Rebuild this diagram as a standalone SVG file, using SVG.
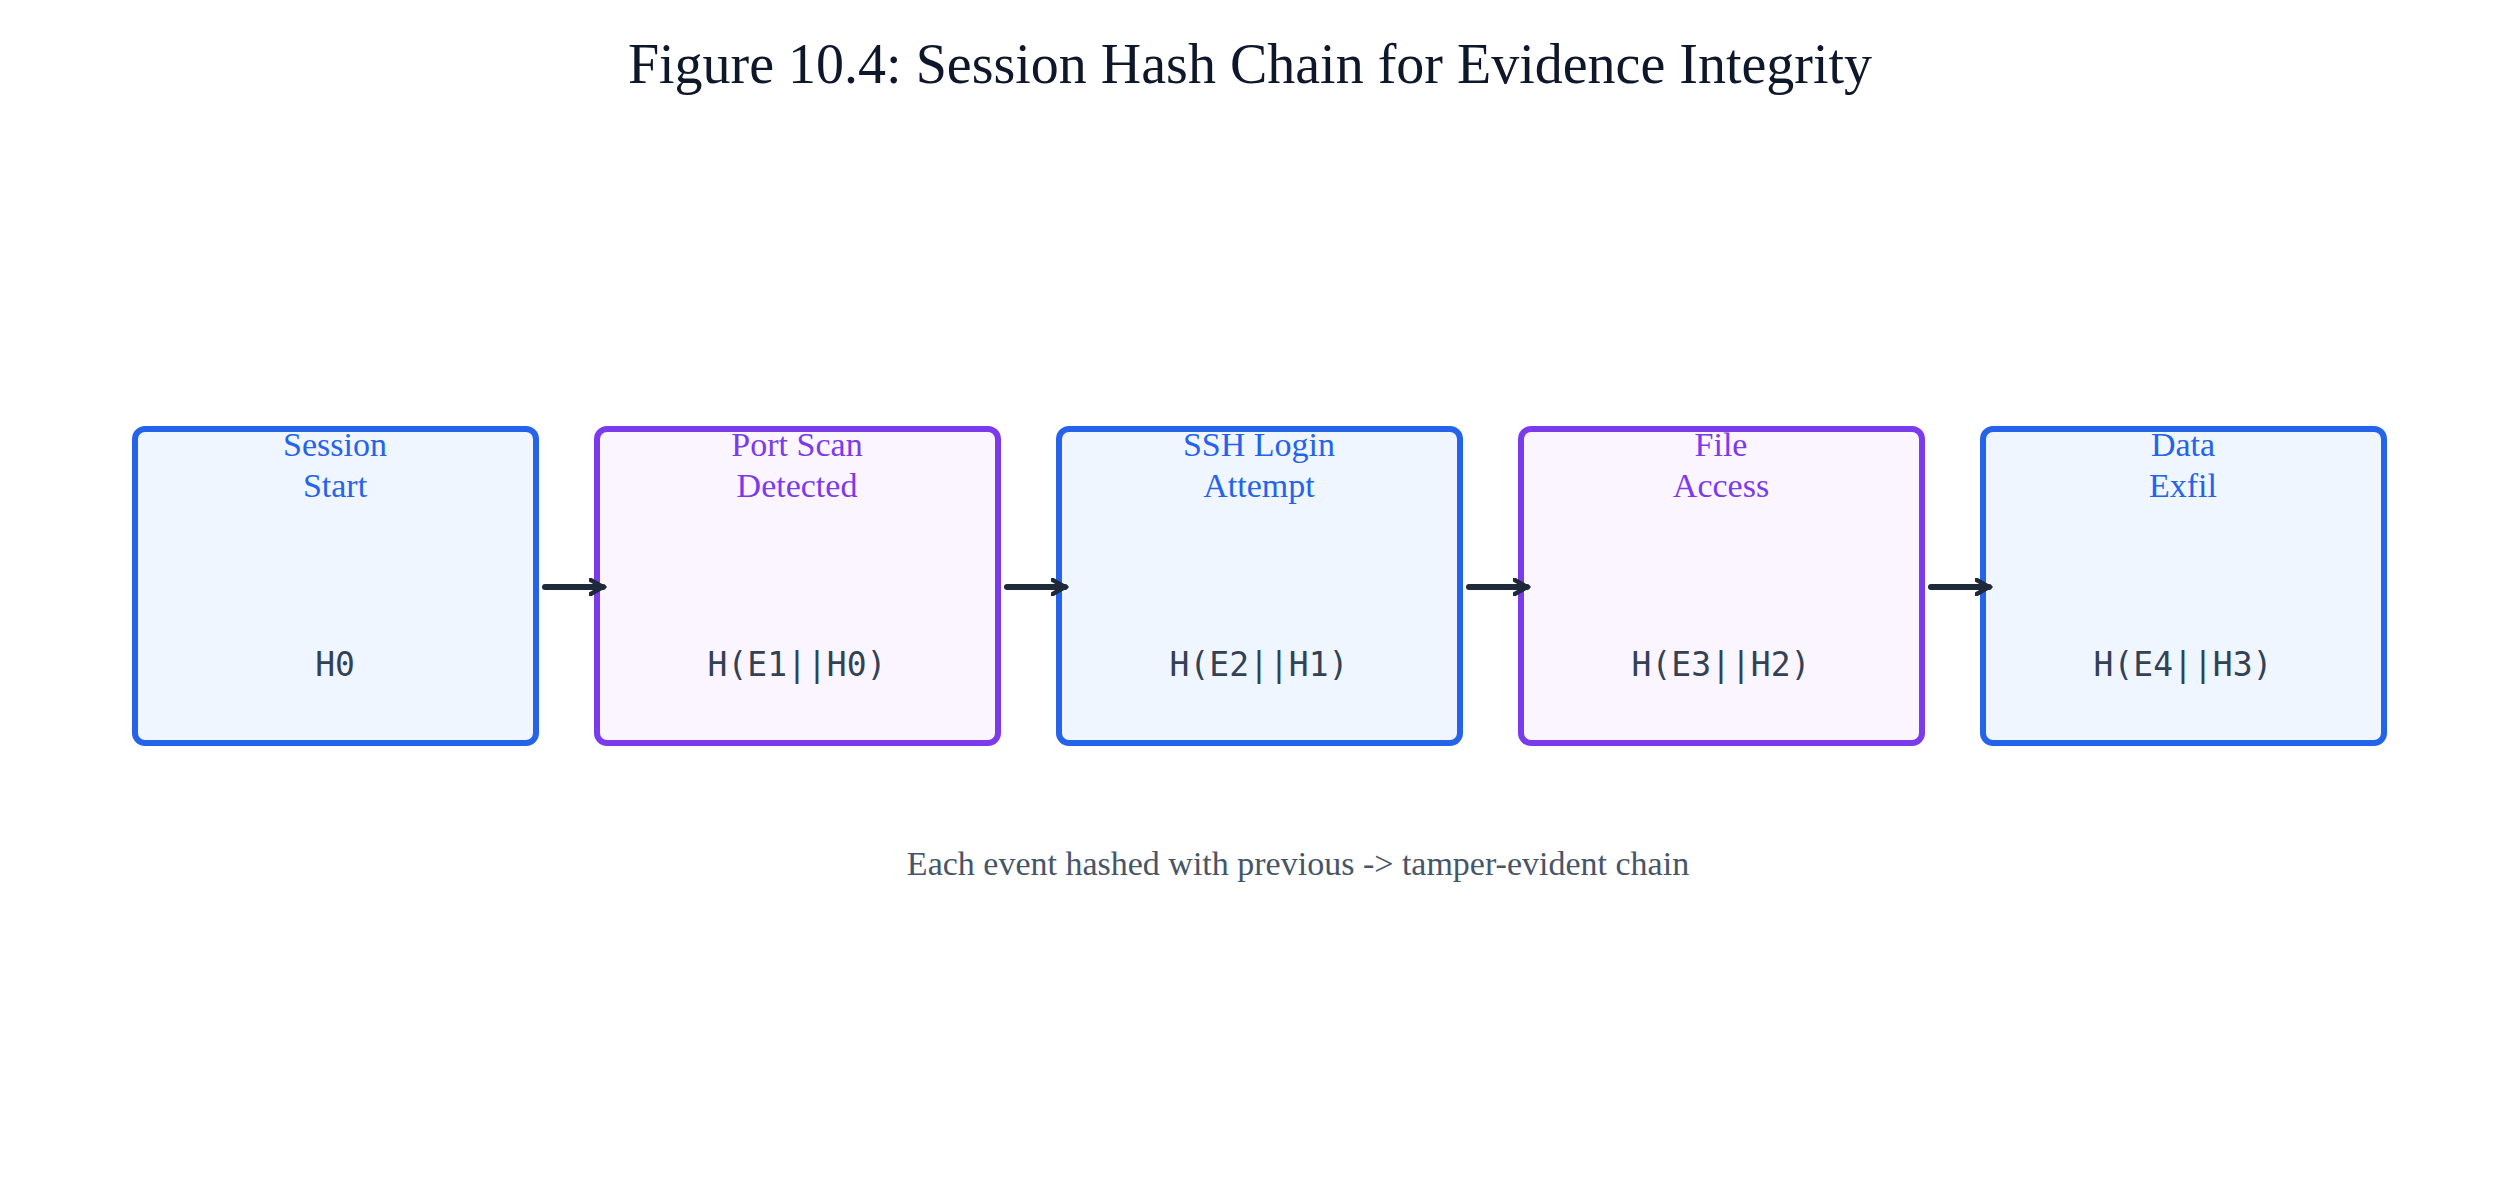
<svg xmlns="http://www.w3.org/2000/svg" width="2500" height="1182" viewBox="0 0 2500 1182">
<style>
.b rect{fill:#eff6ff;stroke:#2563eb;stroke-width:6}
.p rect{fill:#faf5ff;stroke:#7c3aed;stroke-width:6}
.t{font-family:"Liberation Serif",serif;font-size:34px;text-anchor:middle}
.b .t{fill:#2563eb}.p .t{fill:#7c3aed}
.m{font-family:"DejaVu Sans Mono",monospace;font-size:33px;fill:#334155;text-anchor:middle}
.c line{stroke:#1e293b;stroke-width:6;stroke-linecap:round}
</style>
<defs><marker id="a" viewBox="0 0 10 10" refX="8" refY="5" markerWidth="3" markerHeight="3" orient="auto"><path d="M1,1 L8,5 L1,9" fill="none" stroke="#1e293b" stroke-width="2.5" stroke-linecap="round"/></marker></defs>
<rect width="2500" height="1182" fill="#fff"/>
<text x="1250" y="83" style="font-family:'Liberation Serif',serif;font-size:56px;fill:#0f172a;text-anchor:middle">Figure 10.4: Session Hash Chain for Evidence Integrity</text>
<g id="n1" class="b"><rect x="135" y="429" width="401" height="314" rx="10"/><text class="t" x="335" y="456">Session</text><text class="t" x="335" y="497">Start</text><text class="m" x="335" y="676">H0</text></g>
<g id="n2" class="p"><rect x="597" y="429" width="401" height="314" rx="10"/><text class="t" x="797" y="456">Port Scan</text><text class="t" x="797" y="497">Detected</text><text class="m" x="797" y="676">H(E1||H0)</text></g>
<g id="n3" class="b"><rect x="1059" y="429" width="401" height="314" rx="10"/><text class="t" x="1259" y="456">SSH Login</text><text class="t" x="1259" y="497">Attempt</text><text class="m" x="1259" y="676">H(E2||H1)</text></g>
<g id="n4" class="p"><rect x="1521" y="429" width="401" height="314" rx="10"/><text class="t" x="1721" y="456">File</text><text class="t" x="1721" y="497">Access</text><text class="m" x="1721" y="676">H(E3||H2)</text></g>
<g id="n5" class="b"><rect x="1983" y="429" width="401" height="314" rx="10"/><text class="t" x="2183" y="456">Data</text><text class="t" x="2183" y="497">Exfil</text><text class="m" x="2183" y="676">H(E4||H3)</text></g>
<g id="connectors" class="c">
<line x1="545" y1="587" x2="603" y2="587" marker-end="url(#a)"/>
<line x1="1007" y1="587" x2="1065" y2="587" marker-end="url(#a)"/>
<line x1="1469" y1="587" x2="1527" y2="587" marker-end="url(#a)"/>
<line x1="1931" y1="587" x2="1989" y2="587" marker-end="url(#a)"/>
</g>
<text x="1298" y="875" style="font-family:'Liberation Serif',serif;font-size:34px;fill:#475569;text-anchor:middle">Each event hashed with previous -&gt; tamper-evident chain</text>
</svg>
